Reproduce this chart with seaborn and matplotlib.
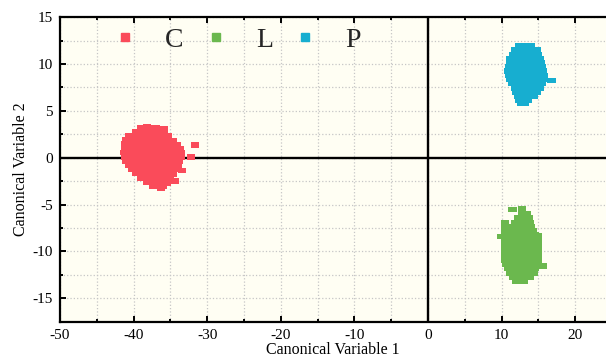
import matplotlib
matplotlib.use("Agg")
import matplotlib.pyplot as plt
import seaborn as sns
import pandas as pd
from matplotlib.lines import Line2D
from matplotlib.markers import MarkerStyle
from matplotlib.ticker import MultipleLocator

groups = ["C", "L", "P"]
colors = ["#FA4B5A", "#6BB84E", "#17AED0"]
x_label = "Canonical Variable 1"
y_label = "Canonical Variable 2"
x_major = [-50, -40, -30, -20, -10, 0, 10, 20]
y_major = [-15, -10, -5, 0, 5, 10, 15]

# cluster C (marker centres)
c_points = [
    (-39.0, 3.25), (-38.2, 3.3), (-37.4, 3.25), (-36.9, 3.2), (-35.9, 3.1),
    (-39.7, 2.8), (-38.9, 2.8), (-38.1, 2.85), (-37.3, 2.8), (-36.5, 2.8), (-35.9, 2.75),
    (-40.6, 2.35), (-39.8, 2.35), (-39.0, 2.4), (-38.2, 2.35), (-37.4, 2.35), (-36.6, 2.35),
    (-35.8, 2.3), (-35.3, 2.35),
    (-41.0, 1.9), (-40.2, 1.9), (-39.4, 1.9), (-38.6, 1.9), (-37.8, 1.9), (-37.0, 1.9),
    (-36.2, 1.9), (-35.4, 1.9), (-34.6, 1.85),
    (-41.1, 1.45), (-40.3, 1.45), (-39.5, 1.45), (-38.7, 1.45), (-37.9, 1.45), (-37.1, 1.45),
    (-36.3, 1.45), (-35.5, 1.45), (-34.7, 1.45), (-34.1, 1.4), (-31.6, 1.35),
    (-41.2, 1.0), (-40.4, 1.0), (-39.6, 1.0), (-38.8, 1.0), (-38.0, 1.0), (-37.2, 1.0),
    (-36.4, 1.0), (-35.6, 1.0), (-34.8, 1.0), (-34.0, 1.0), (-33.7, 0.95),
    (-41.3, 0.55), (-40.5, 0.55), (-39.7, 0.55), (-38.9, 0.55), (-38.1, 0.55), (-37.3, 0.55),
    (-36.5, 0.55), (-35.7, 0.55), (-34.9, 0.55), (-34.1, 0.55), (-33.5, 0.5),
    (-41.2, 0.1), (-40.4, 0.1), (-39.6, 0.1), (-38.8, 0.1), (-38.0, 0.1), (-37.2, 0.1),
    (-36.4, 0.1), (-35.6, 0.1), (-34.8, 0.1), (-34.0, 0.1), (-33.6, 0.05), (-32.2, 0.1),
    (-41.0, -0.35), (-40.2, -0.35), (-39.4, -0.35), (-38.6, -0.35), (-37.8, -0.35),
    (-37.0, -0.35), (-36.2, -0.35), (-35.4, -0.35), (-34.6, -0.35), (-33.8, -0.35),
    (-40.6, -0.8), (-39.8, -0.8), (-39.0, -0.8), (-38.2, -0.8), (-37.4, -0.8), (-36.6, -0.8),
    (-35.8, -0.8), (-35.0, -0.8), (-34.2, -0.8), (-34.0, -0.85),
    (-40.2, -1.25), (-39.4, -1.25), (-38.6, -1.25), (-37.8, -1.25), (-37.0, -1.25),
    (-36.2, -1.25), (-35.4, -1.25), (-34.6, -1.25), (-34.2, -1.2), (-33.4, -1.35),
    (-39.6, -1.7), (-38.8, -1.7), (-38.0, -1.7), (-37.2, -1.7), (-36.4, -1.7), (-35.6, -1.7),
    (-34.8, -1.7), (-34.6, -1.75),
    (-39.0, -2.15), (-38.2, -2.15), (-37.4, -2.15), (-36.6, -2.15), (-35.8, -2.15), (-35.1, -2.1),
    (-38.2, -2.6), (-37.4, -2.6), (-36.6, -2.6), (-35.4, -2.7), (-34.4, -2.5),
    (-37.4, -3.0), (-36.6, -3.0), (-36.0, -3.05),
    (-36.3, -3.25),
]

# cluster L
l_points = [
    (11.5, -5.55), (12.75, -5.4),
    (12.8, -6.0), (13.4, -6.0),
    (12.3, -6.45), (13.1, -6.45), (13.7, -6.45),
    (10.5, -6.9), (11.9, -6.9), (12.7, -6.9), (13.5, -6.9), (13.9, -6.9),
    (10.5, -7.35), (11.3, -7.35), (12.1, -7.35), (12.9, -7.35), (13.7, -7.35), (14.0, -7.35),
    (10.5, -7.8), (11.3, -7.8), (12.1, -7.8), (12.9, -7.8), (13.7, -7.8), (14.3, -7.8),
    (10.0, -8.4), (10.6, -8.25), (11.4, -8.25), (12.2, -8.25), (13.0, -8.25), (13.8, -8.25),
    (14.6, -8.25), (14.9, -8.3),
    (10.5, -8.7), (11.3, -8.7), (12.1, -8.7), (12.9, -8.7), (13.7, -8.7), (14.5, -8.7), (15.0, -8.7),
    (10.5, -9.15), (11.3, -9.15), (12.1, -9.15), (12.9, -9.15), (13.7, -9.15), (14.5, -9.15),
    (14.9, -9.15),
    (10.5, -9.6), (11.3, -9.6), (12.1, -9.6), (12.9, -9.6), (13.7, -9.6), (14.5, -9.6), (15.0, -9.6),
    (10.5, -10.05), (11.3, -10.05), (12.1, -10.05), (12.9, -10.05), (13.7, -10.05),
    (14.5, -10.05), (15.0, -10.05),
    (10.5, -10.5), (11.3, -10.5), (12.1, -10.5), (12.9, -10.5), (13.7, -10.5), (14.5, -10.5),
    (14.9, -10.5),
    (10.5, -10.95), (11.3, -10.95), (12.1, -10.95), (12.9, -10.95), (13.7, -10.95),
    (14.5, -10.95), (14.9, -10.95),
    (10.6, -11.4), (11.4, -11.4), (12.2, -11.4), (13.0, -11.4), (13.8, -11.4), (14.6, -11.4),
    (14.8, -11.4), (15.6, -11.55),
    (10.9, -11.85), (11.7, -11.85), (12.5, -11.85), (13.3, -11.85), (14.1, -11.85), (14.6, -11.85),
    (11.2, -12.3), (12.0, -12.3), (12.8, -12.3), (13.6, -12.3), (14.4, -12.3),
    (11.6, -12.75), (12.4, -12.75), (13.2, -12.75), (13.8, -12.75),
    (12.0, -13.2), (12.6, -13.2), (13.0, -13.2),
]

# cluster P
p_points = [
    (12.4, 11.95), (13.2, 11.95), (14.0, 11.95),
    (11.9, 11.5), (12.7, 11.5), (13.5, 11.5), (14.3, 11.5), (14.8, 11.5),
    (11.6, 11.05), (12.4, 11.05), (13.2, 11.05), (14.0, 11.05), (14.8, 11.05), (15.0, 11.05),
    (11.2, 10.6), (12.0, 10.6), (12.8, 10.6), (13.6, 10.6), (14.4, 10.6), (15.2, 10.6),
    (11.1, 10.15), (11.9, 10.15), (12.7, 10.15), (13.5, 10.15), (14.3, 10.15), (15.1, 10.15),
    (15.3, 10.15),
    (11.0, 9.7), (11.8, 9.7), (12.6, 9.7), (13.4, 9.7), (14.2, 9.7), (15.0, 9.7), (15.5, 9.7),
    (10.95, 9.25), (11.75, 9.25), (12.55, 9.25), (13.35, 9.25), (14.15, 9.25), (14.95, 9.25),
    (15.6, 9.25),
    (11.0, 8.8), (11.8, 8.8), (12.6, 8.8), (13.4, 8.8), (14.2, 8.8), (15.0, 8.8), (15.7, 8.8),
    (11.2, 8.35), (12.0, 8.35), (12.8, 8.35), (13.6, 8.35), (14.4, 8.35), (15.2, 8.35),
    (15.6, 8.35), (16.8, 8.25),
    (11.5, 7.9), (12.3, 7.9), (13.1, 7.9), (13.9, 7.9), (14.7, 7.9), (15.5, 7.9),
    (11.8, 7.45), (12.6, 7.45), (13.4, 7.45), (14.2, 7.45), (15.0, 7.45), (15.2, 7.45),
    (12.0, 7.0), (12.8, 7.0), (13.6, 7.0), (14.4, 7.0), (14.8, 7.0),
    (12.2, 6.55), (13.0, 6.55), (13.8, 6.55), (14.4, 6.55),
    (12.4, 6.1), (13.2, 6.1), (13.6, 6.1),
    (12.6, 5.8), (13.2, 5.8),
]

rows = []
for g, pts in zip(groups, [c_points, l_points, p_points]):
    for x, y in pts:
        rows.append((g, x, y))
df = pd.DataFrame(rows, columns=["group", "x", "y"])

sns.set_theme(style="ticks")
plt.rcParams["font.family"] = ["Liberation Serif", "DejaVu Serif"]
plt.rcParams["axes.unicode_minus"] = False

fig = plt.figure(figsize=(6.06, 3.59), dpi=100)
ax = fig.add_axes([0.099, 0.104, 0.901, 0.848])
ax.set_facecolor("#FFFEF3")
ax.set_axisbelow(True)

rect = MarkerStyle([(-1, -0.67), (1, -0.67), (1, 0.67), (-1, 0.67), (-1, -0.67)])
sns.scatterplot(data=df, x="x", y="y", hue="group", hue_order=groups,
                palette=dict(zip(groups, colors)), marker=rect, s=34,
                linewidth=0, edgecolor="none", legend=False, ax=ax, zorder=3)

ax.axhline(0, color="black", lw=1.7, zorder=2)
ax.axvline(0, color="black", lw=1.7, zorder=2)

ax.set_xlim(-50, 24.2)
ax.set_ylim(-17.5, 15)
ax.set_xticks(x_major)
ax.set_yticks(y_major)
ax.xaxis.set_minor_locator(MultipleLocator(5))
ax.yaxis.set_minor_locator(MultipleLocator(2.5))
ax.grid(which="both", linestyle=":", color="#C6C6C6", linewidth=0.9)

for side in ["left", "top", "bottom"]:
    ax.spines[side].set_linewidth(1.6)
    ax.spines[side].set_color("black")
ax.spines["right"].set_visible(False)

ax.tick_params(which="both", direction="in", top=True, right=False,
               width=1.4, color="black", labelcolor="black", labelsize=11)
ax.tick_params(which="major", length=4.5, pad=5)
ax.tick_params(which="minor", length=2.5)

ax.set_xlabel(x_label, fontsize=11.5, labelpad=0, color="black")
ax.set_ylabel(y_label, fontsize=11.5, labelpad=3, color="black")

handles = [Line2D([], [], marker="s", linestyle="", color=c, markersize=5.5) for c in colors]
ax.legend(handles, groups, ncol=3, loc="center left", bbox_to_anchor=(0.106, 0.925),
          frameon=False, fontsize=20, handlelength=0.5, handletextpad=1.2,
          columnspacing=0.9, borderpad=0, borderaxespad=0)

fig.savefig("out.png", dpi=100)
